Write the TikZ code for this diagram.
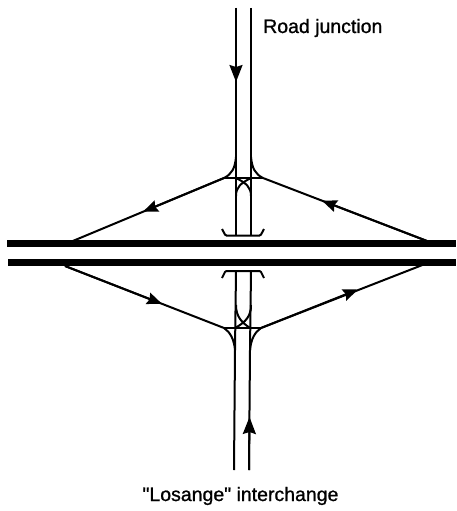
\documentclass[tikz,border=0pt]{standalone}
\usepackage{fontspec}
\newfontfamily\labelfont[FakeBold=1]{Liberation Sans}
\usetikzlibrary{arrows.meta, positioning}

\begin{document}
\begin{tikzpicture}[
    x=1pt, y=-1pt,
    road/.style={line width=2pt},
    carriageway/.style={line width=7pt},
    arrow/.style={road, -{Stealth[length=17pt, width=13pt, inset=2pt]}},
    ramparrow/.style={road, -{Stealth[length=15pt, width=12pt, inset=2pt]}},
    caption/.style={font=\labelfont\fontsize{19.5}{22}\selectfont, inner sep=0pt}
]
    \useasboundingbox (0,0) rectangle (456,511);

    % Motorway
    \coordinate (west_a) at (7,243);
    \coordinate (east_a) at (456,243);
    \coordinate (west_b) at (8,262);
    \coordinate (east_b) at (456,262);
    \draw[carriageway] (west_a) -- (east_a);
    \draw[carriageway] (west_b) -- (east_b);

    % Upper side
    \coordinate (top_l) at (236,8);
    \coordinate (top_r) at (251,8);
    \coordinate (top_mid) at (236,82);
    \coordinate (low_l) at (236,235);
    \coordinate (low_r) at (251,235);
    \coordinate (bridge_nw) at (222,229);
    \coordinate (bridge_ne) at (264,229);
    \coordinate (ramp_nw) at (224,178);
    \coordinate (ramp_ne) at (263,178);
    \coordinate (foot_nw) at (68,243);
    \coordinate (foot_ne) at (427,241);
    \coordinate (mark_nw) at (143,211.7);
    \coordinate (mark_ne) at (322,200.7);

    \draw[road] (top_l) -- (low_l);
    \draw[arrow] (top_l) -- (top_mid);
    \draw[road] (top_r) -- (low_r);
    \draw[road, rounded corners=1pt] (bridge_nw) -- (225.5,235.5) -- (260.5,235.5) -- (bridge_ne);

    \draw[road] (ramp_nw) -- (foot_nw);
    \draw[ramparrow] (ramp_nw) -- (mark_nw);
    \draw[road] (foot_ne) -- (ramp_ne);
    \draw[ramparrow] (foot_ne) -- (mark_ne);
    \draw[road] (ramp_nw) -- (ramp_ne);
    \draw[road] (ramp_nw) .. controls (232,174) and (235,168) .. (236,157);
    \draw[road] (ramp_ne) .. controls (255,174) and (252,168) .. (251,157);
    \draw[road] (236,196) .. controls (236,187) and (241,183) .. (251,178);
    \draw[road] (251,196) .. controls (251,187) and (246,183) .. (236,178);

    % Lower side
    \coordinate (base_l) at (234,470);
    \coordinate (base_r) at (249,470);
    \coordinate (base_mid) at (249.5,417);
    \coordinate (high_l) at (236,271);
    \coordinate (high_r) at (251,271);
    \coordinate (bridge_sw) at (222,278);
    \coordinate (bridge_se) at (264,278);
    \coordinate (ramp_sw) at (224,328);
    \coordinate (ramp_se) at (261,328);
    \coordinate (foot_sw) at (65,266);
    \coordinate (foot_se) at (425,264);
    \coordinate (mark_sw) at (162,303.8);
    \coordinate (mark_se) at (358,289.5);

    \draw[road] (high_l) -- (235,350) -- (base_l);
    \draw[road] (high_r) -- (250,350) -- (base_r);
    \draw[arrow] (base_r) -- (base_mid);
    \draw[road, rounded corners=1pt] (bridge_sw) -- (225.5,271) -- (260.5,271) -- (bridge_se);

    \draw[road] (foot_sw) -- (ramp_sw);
    \draw[ramparrow] (foot_sw) -- (mark_sw);
    \draw[road] (ramp_se) -- (foot_se);
    \draw[ramparrow] (ramp_se) -- (mark_se);
    \draw[road] (ramp_sw) -- (ramp_se);
    \draw[road] (ramp_sw) .. controls (230,332) and (234,339) .. (235,350);
    \draw[road] (ramp_se) .. controls (255,332) and (251,339) .. (250,350);
    \draw[road] (236,305) .. controls (236,316) and (241,322) .. (250,328);
    \draw[road] (251,305) .. controls (251,316) and (246,322) .. (235,328);

    % Labels
    \node[caption, anchor=base west] (junction_label) at (263,33) {Road junction};
    \node[caption, anchor=base] (losange_label) at (240.5,501) {"Losange" interchange};
\end{tikzpicture}
\end{document}
